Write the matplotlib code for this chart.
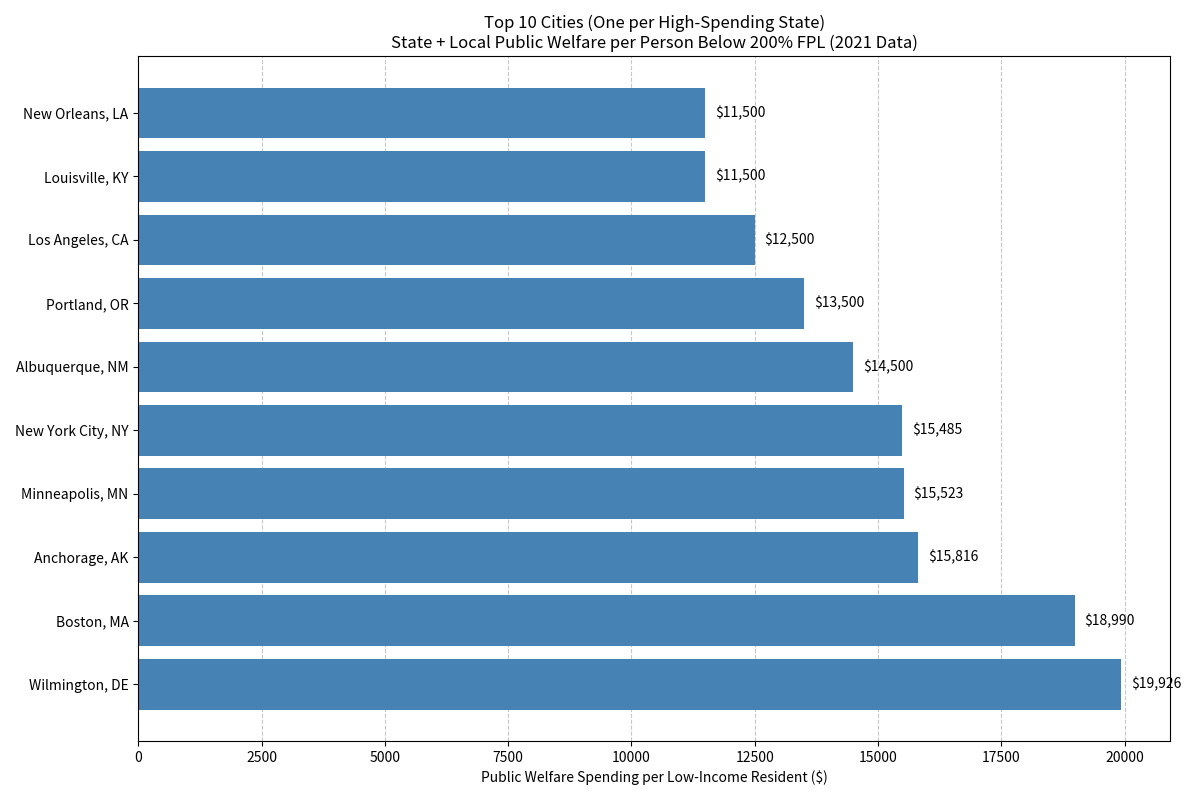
import matplotlib
matplotlib.use("Agg")
import matplotlib.pyplot as plt

plt.rcParams['font.family'] = ['Noto Sans CJK JP', 'DejaVu Sans']

cities = ["Wilmington, DE", "Boston, MA", "Anchorage, AK", "Minneapolis, MN",
          "New York City, NY", "Albuquerque, NM", "Portland, OR", "Los Angeles, CA",
          "Louisville, KY", "New Orleans, LA"]
values = [19926, 18990, 15816, 15523, 15485, 14500, 13500, 12500, 11500, 11500]

fig, ax = plt.subplots(figsize=(12, 8), dpi=100)
bars = ax.barh(cities, values, color="steelblue", height=0.8)
for b, v in zip(bars, values):
    ax.text(v + 200, b.get_y() + b.get_height() / 2, f"${v:,}", va="center", ha="left", fontsize=10)
ax.set_xlabel("Public Welfare Spending per Low-Income Resident ($)", fontsize=10)
ax.set_title("Top 10 Cities (One per High-Spending State)\nState + Local Public Welfare per Person Below 200% FPL (2021 Data)", fontsize=12)
ax.grid(axis="x", linestyle="--", alpha=0.7)
ax.set_axisbelow(True)
ax.tick_params(labelsize=10)
fig.tight_layout()
fig.savefig("out.png")
